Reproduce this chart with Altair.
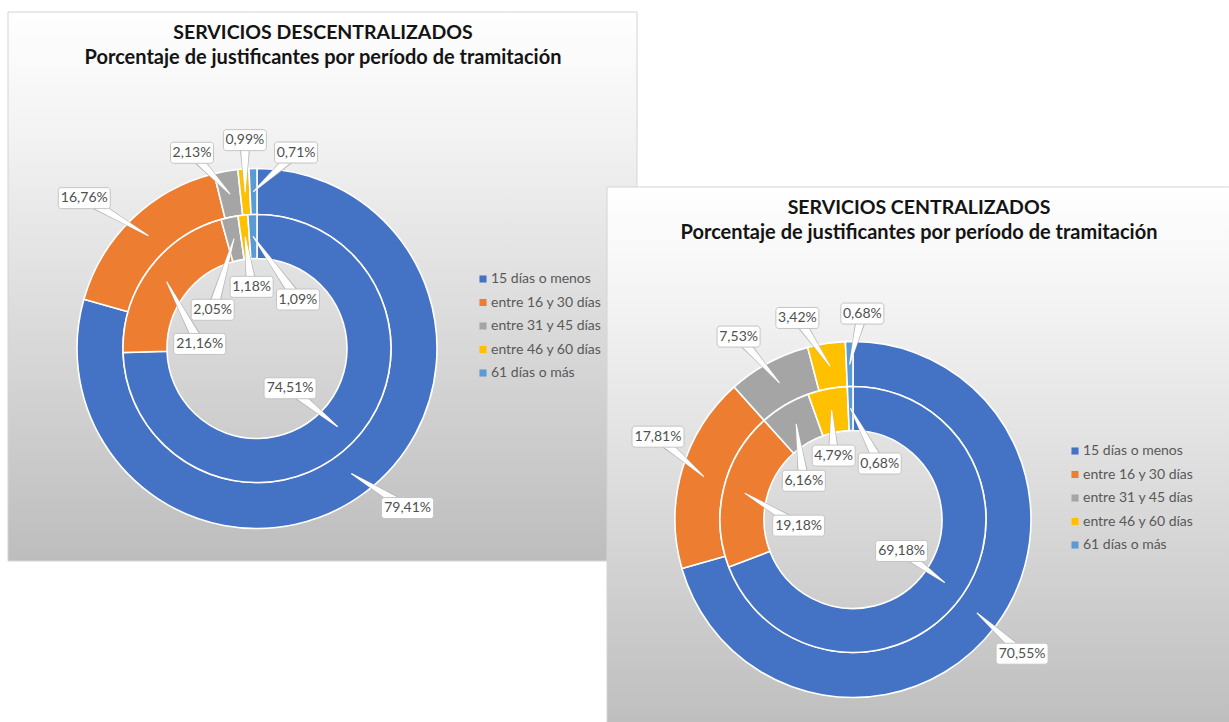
import math
import altair as alt
import pandas as pd

# ---------------- data ----------------
CATEGORIES = ["15 días o menos", "entre 16 y 30 días", "entre 31 y 45 días",
              "entre 46 y 60 días", "61 días o más"]
COLORS = ["#4472C4", "#ED7D31", "#A5A5A5", "#FFC000", "#5B9BD5"]

DESC_OUTER = [79.41, 16.76, 2.13, 0.99, 0.71]
DESC_INNER = [74.51, 21.16, 2.05, 1.18, 1.09]
CENT_OUTER = [70.55, 17.81, 7.53, 3.42, 0.68]
CENT_INNER = [69.18, 19.18, 6.16, 4.79, 0.68]

TITLE_DESC = "SERVICIOS DESCENTRALIZADOS"
TITLE_CENT = "SERVICIOS CENTRALIZADOS"
SUBTITLE = "Porcentaje de justificantes por período de tramitación"

# ---------------- layout ----------------
W, H = 1229, 722
PANELS = [
    dict(x1=8, x2=637, y1=12, y2=561, cx=257, cy=348.5, r=(90, 134, 180),
         tx=323, ty=(33, 58), lx=483, ly=279, title=TITLE_DESC,
         outer=DESC_OUTER, inner=DESC_INNER,
         n_out=[(18, -16), (-20, 8), (-27, 21), (4.5, 11), (44, 24)],
         n_in=[(-10, -2), (-9, 31), (-32, 20), (1, -2), (43, 11)]),
    dict(x1=607, x2=1240, y1=187, y2=735, cx=853, cy=519.5, r=(89, 133, 178),
         tx=919, ty=(208, 233), lx=1075, ly=451, title=TITLE_CENT,
         outer=CENT_OUTER, inner=CENT_INNER,
         n_out=[(-5, 3), (14.5, -22.5), (-11, 9), (-23, 14), (14, 12)],
         n_in=[(0, -2), (3, 20), (-19, 12), (-8, -6), (28, 3)]),
]

color_scale = alt.Scale(domain=CATEGORIES, range=COLORS)
FONT = "Lato"


def fmt(v):
    return f"{v:.2f}".replace(".", ",") + "%"


def ring_df(values):
    return pd.DataFrame({"cat": CATEGORIES, "value": values, "idx": range(len(values))})


def label_rows(values, cx, cy, r_anchor, r_label, nudges, prefix):
    total = sum(values)
    rows, trail = [], []
    cum = 0.0
    for i, v in enumerate(values):
        mid = (cum + v / 2) / total * 2 * math.pi
        cum += v
        ax = cx + r_anchor * math.sin(mid)
        ay = cy - r_anchor * math.cos(mid)
        lx = cx + r_label * math.sin(mid) + nudges[i][0]
        ly = cy - r_label * math.cos(mid) + nudges[i][1]
        t = fmt(v)
        bw = 9 * len(t) - 2
        rows.append(dict(text=t, lx=lx, ly=ly, bx1=lx - bw / 2, bx2=lx + bw / 2,
                         by1=ly - 10.5, by2=ly + 10.5))
        lid = f"{prefix}{i}"
        trail.append(dict(id=lid, seq=0, x=ax, y=ay, w=0))
        trail.append(dict(id=lid, seq=1, x=lx, y=ly, w=1))
    return rows, trail


layers = []
for p in PANELS:
    one = pd.DataFrame({"k": [0]})
    # panel background
    layers.append(
        alt.Chart(one).mark_rect(
            fill=alt.Gradient(gradient="linear",
                              stops=[alt.GradientStop(color="#ffffff", offset=0),
                                     alt.GradientStop(color="#f4f4f4", offset=0.2),
                                     alt.GradientStop(color="#bdbdbd", offset=1)],
                              x1=0, x2=0, y1=0, y2=1),
            stroke="#d4d4d4", strokeWidth=1
        ).encode(x=alt.value(p["x1"]), x2=alt.value(p["x2"]),
                 y=alt.value(p["y1"]), y2=alt.value(p["y2"]))
    )
    r_in, r_mid, r_out = p["r"]
    # rings
    for vals, ro, ri in [(p["outer"], r_out, r_mid), (p["inner"], r_mid, r_in)]:
        layers.append(
            alt.Chart(ring_df(vals)).mark_arc(
                radius=ro, radius2=ri, stroke="white", strokeWidth=1.6
            ).encode(
                theta=alt.Theta("value:Q", stack=True),
                color=alt.Color("cat:N", scale=color_scale, legend=None),
                order=alt.Order("idx:Q"),
                x=alt.value(p["cx"]), y=alt.value(p["cy"]),
            )
        )
    # labels
    rows_o, tr_o = label_rows(p["outer"], p["cx"], p["cy"], (r_mid + r_out) / 2,
                              r_out + 40, p["n_out"], "o")
    rows_i, tr_i = label_rows(p["inner"], p["cx"], p["cy"], (r_in + r_mid) / 2,
                              r_in - 30, p["n_in"], "i")
    lab = pd.DataFrame(rows_o + rows_i)
    trail = pd.DataFrame(tr_o + tr_i)
    for col, wmax in [("#b5b5b5", 12), ("#ffffff", 9.5)]:
        layers.append(
            alt.Chart(trail.assign(sz=trail["w"] * wmax)).mark_trail(color=col).encode(
                x=alt.X("x:Q", scale=None), y=alt.Y("y:Q", scale=None),
                size=alt.Size("sz:Q", scale=None, legend=None),
                detail="id:N", order=alt.Order("seq:Q"),
            )
        )
    layers.append(
        alt.Chart(lab).mark_rect(fill="white", stroke="#c4c4c4", strokeWidth=1,
                                 cornerRadius=3).encode(
            x=alt.X("bx1:Q", scale=None), x2="bx2:Q",
            y=alt.Y("by1:Q", scale=None), y2="by2:Q")
    )
    layers.append(
        alt.Chart(lab).mark_text(font=FONT, fontSize=14, color="#505050",
                                 align="center", baseline="middle").encode(
            x=alt.X("lx:Q", scale=None), y=alt.Y("ly:Q", scale=None), text="text:N")
    )
    # legend
    leg = pd.DataFrame({"cat": CATEGORIES,
                        "y": [p["ly"] + i * 23.5 for i in range(len(CATEGORIES))]})
    layers.append(
        alt.Chart(leg).mark_square(size=50, opacity=1).encode(
            x=alt.value(p["lx"]), y=alt.Y("y:Q", scale=None),
            color=alt.Color("cat:N", scale=color_scale, legend=None))
    )
    layers.append(
        alt.Chart(leg).mark_text(font=FONT, fontSize=14, color="#595959",
                                 align="left", baseline="middle").encode(
            x=alt.value(p["lx"] + 8), y=alt.Y("y:Q", scale=None), text="cat:N")
    )
    # titles
    tdf = pd.DataFrame({"t": [p["title"], SUBTITLE], "y": list(p["ty"]),
                        "fs": [19.5, 20]})
    for i in range(2):
        layers.append(
            alt.Chart(tdf.iloc[[i]]).mark_text(
                font=FONT, fontSize=float(tdf["fs"][i]), fontWeight="bold",
                color="#141414", align="center", baseline="middle").encode(
                x=alt.value(p["tx"]), y=alt.Y("y:Q", scale=None), text="t:N")
        )

chart = alt.layer(*layers).resolve_scale(theta="independent").properties(
    width=W, height=H, padding=0, autosize="none", background="white"
).configure_view(stroke=None)

chart.save("out.html", embed_options={"renderer": "svg", "actions": False})
